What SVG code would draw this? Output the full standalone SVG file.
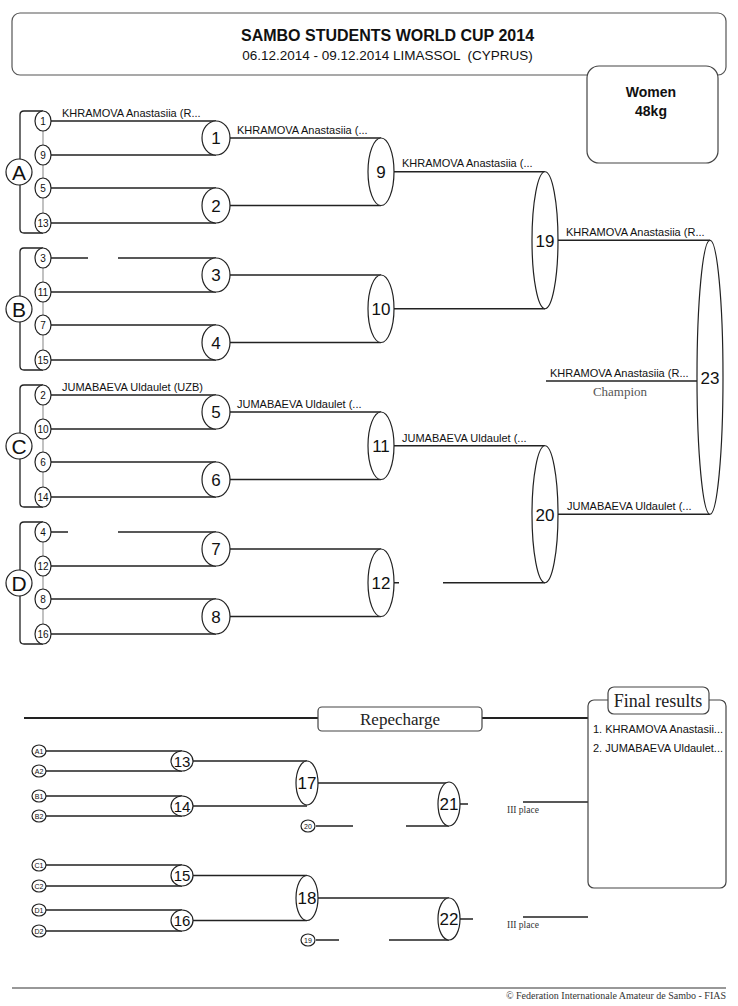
<svg xmlns="http://www.w3.org/2000/svg" width="738" height="1006" viewBox="0 0 738 1006">
<style>
.ln{stroke:#222;stroke-width:1.3;fill:none}
.gl{stroke:#999;stroke-width:1.2;fill:none}
.el{fill:#fff;stroke:#222;stroke-width:1.2}
.sans{font-family:"Liberation Sans",Arial,sans-serif;fill:#111}
.serif{font-family:"Liberation Serif","Times New Roman",serif}
.nm{font-family:"Liberation Sans",Arial,sans-serif;font-size:11px;fill:#111}
.n16{font-family:"Liberation Sans",Arial,sans-serif;font-size:17px;fill:#111;text-anchor:middle}
.n15{font-family:"Liberation Sans",Arial,sans-serif;font-size:15px;fill:#111;text-anchor:middle}
.n10{font-family:"Liberation Sans",Arial,sans-serif;font-size:10px;fill:#111;text-anchor:middle}
.n7{font-family:"Liberation Sans",Arial,sans-serif;font-size:7px;fill:#111;text-anchor:middle}
.big{font-family:"Liberation Sans",Arial,sans-serif;font-size:21px;fill:#111;text-anchor:middle}
.iii{font-family:"Liberation Serif","Times New Roman",serif;font-size:9.5px;fill:#333}
</style>
<rect width="738" height="1006" fill="#fff"/>

<g id="header">
<rect x="12" y="13" width="714" height="62" rx="8" fill="#fff" stroke="#555" stroke-width="1.2"/>
<text x="387.5" y="41" class="sans" font-size="16" font-weight="bold" text-anchor="middle">SAMBO STUDENTS WORLD CUP 2014</text>
<text x="387.5" y="60" class="sans" font-size="13.5" text-anchor="middle" xml:space="preserve">06.12.2014 - 09.12.2014 LIMASSOL  (CYPRUS)</text>
</g>
<g id="category">
<rect x="587" y="66" width="131" height="97" rx="12" fill="#fff" stroke="#444" stroke-width="1.2"/>
<text x="651" y="97" class="sans" font-size="14" font-weight="bold" text-anchor="middle">Women</text>
<text x="651" y="116" class="sans" font-size="14" font-weight="bold" text-anchor="middle">48kg</text>
</g>

<g id="connectors">
<path class="ln" d="M43 111H24Q20 111 20 115V229Q20 233 24 233H43"/>
<path class="ln" d="M43 248H24Q20 248 20 252V366Q20 370 24 370H43"/>
<path class="ln" d="M43 385H24Q20 385 20 389V503Q20 507 24 507H43"/>
<path class="ln" d="M43 522H24Q20 522 20 526V640Q20 644 24 644H43"/>
<path class="gl" d="M43 121V223M43 258V360M43 395V497M43 532V634"/>
<path class="ln" d="M51 121H216M51 155H216M51 188H216M51 223H216"/>
<path class="ln" d="M51 258H88M118 258H216M51 292H216M51 325H216M51 360H216"/>
<path class="ln" d="M51 395H216M51 429H216M51 462H216M51 497H216"/>
<path class="ln" d="M51 532H68M118 532H216M51 566H216M51 599H216M51 634H216"/>
<path class="ln" d="M230 138H381M230 205.5H381M230 275H381M230 342.5H381M230 412H381M230 479.5H381M230 549H381M230 616.5H381"/>
<path class="ln" d="M394 171.75H545M394 308.75H545M394 445.75H545M394 582.75H399M443 582.75H545"/>
<path class="ln" d="M558 240.25H710M558 514.25H710"/>
<path class="ln" d="M546 381H697"/>
<path d="M24 718H318M482 718H588" stroke="#222" stroke-width="2" fill="none"/>
<path class="ln" d="M46 751H182M46 771H182M46 796H182M46 816H182"/>
<path class="ln" d="M193 761H307M193 806H307M318 783H449M316 826H353M406 826H449M460 804H468M523 802H588"/>
<path class="ln" d="M46 865H182M46 886H182M46 910H182M46 931H182"/>
<path class="ln" d="M193 875.5H307M193 920.5H307M318 898H449M316 940H339M389 940H449M460 919H473M523 917H588"/>
<path d="M12 988H726" stroke="#333" stroke-width="1.2"/>
</g>

<g id="pool-A">
<circle cx="19" cy="172" r="13" class="el"/><text x="19" y="179.5" class="big">A</text>
<ellipse cx="43" cy="121" rx="8" ry="10" class="el"/><text x="43" y="124.5" class="n10">1</text>
<ellipse cx="43" cy="155" rx="8" ry="10" class="el"/><text x="43" y="158.5" class="n10">9</text>
<ellipse cx="43" cy="188" rx="8" ry="10" class="el"/><text x="43" y="191.5" class="n10">5</text>
<ellipse cx="43" cy="223" rx="8" ry="10" class="el"/><text x="43" y="226.5" class="n10">13</text>
</g>
<g id="pool-B">
<circle cx="19" cy="309" r="13" class="el"/><text x="19" y="316.5" class="big">B</text>
<ellipse cx="43" cy="258" rx="8" ry="10" class="el"/><text x="43" y="261.5" class="n10">3</text>
<ellipse cx="43" cy="292" rx="8" ry="10" class="el"/><text x="43" y="295.5" class="n10">11</text>
<ellipse cx="43" cy="325" rx="8" ry="10" class="el"/><text x="43" y="328.5" class="n10">7</text>
<ellipse cx="43" cy="360" rx="8" ry="10" class="el"/><text x="43" y="363.5" class="n10">15</text>
</g>
<g id="pool-C">
<circle cx="19" cy="446" r="13" class="el"/><text x="19" y="453.5" class="big">C</text>
<ellipse cx="43" cy="395" rx="8" ry="10" class="el"/><text x="43" y="398.5" class="n10">2</text>
<ellipse cx="43" cy="429" rx="8" ry="10" class="el"/><text x="43" y="432.5" class="n10">10</text>
<ellipse cx="43" cy="462" rx="8" ry="10" class="el"/><text x="43" y="465.5" class="n10">6</text>
<ellipse cx="43" cy="497" rx="8" ry="10" class="el"/><text x="43" y="500.5" class="n10">14</text>
</g>
<g id="pool-D">
<circle cx="19" cy="583" r="13" class="el"/><text x="19" y="590.5" class="big">D</text>
<ellipse cx="43" cy="532" rx="8" ry="10" class="el"/><text x="43" y="535.5" class="n10">4</text>
<ellipse cx="43" cy="566" rx="8" ry="10" class="el"/><text x="43" y="569.5" class="n10">12</text>
<ellipse cx="43" cy="599" rx="8" ry="10" class="el"/><text x="43" y="602.5" class="n10">8</text>
<ellipse cx="43" cy="634" rx="8" ry="10" class="el"/><text x="43" y="637.5" class="n10">16</text>
</g>

<g id="round1">
<ellipse cx="216" cy="138" rx="14" ry="17" class="el"/><text x="216" y="144" class="n16">1</text>
<ellipse cx="216" cy="205.5" rx="14" ry="17.5" class="el"/><text x="216" y="211.5" class="n16">2</text>
<ellipse cx="216" cy="275" rx="14" ry="17" class="el"/><text x="216" y="281" class="n16">3</text>
<ellipse cx="216" cy="342.5" rx="14" ry="17.5" class="el"/><text x="216" y="348.5" class="n16">4</text>
<ellipse cx="216" cy="412" rx="14" ry="17" class="el"/><text x="216" y="418" class="n16">5</text>
<ellipse cx="216" cy="479.5" rx="14" ry="17.5" class="el"/><text x="216" y="485.5" class="n16">6</text>
<ellipse cx="216" cy="549" rx="14" ry="17" class="el"/><text x="216" y="555" class="n16">7</text>
<ellipse cx="216" cy="616.5" rx="14" ry="17.5" class="el"/><text x="216" y="622.5" class="n16">8</text>
</g>
<g id="round2">
<ellipse cx="381" cy="171.75" rx="13" ry="33.75" class="el"/><text x="381" y="178" class="n16">9</text>
<ellipse cx="381" cy="308.75" rx="13" ry="33.75" class="el"/><text x="381" y="315" class="n16">10</text>
<ellipse cx="381" cy="445.75" rx="13" ry="33.75" class="el"/><text x="381" y="452" class="n16">11</text>
<ellipse cx="381" cy="582.75" rx="13" ry="33.75" class="el"/><text x="381" y="589" class="n16">12</text>
</g>
<g id="semifinals">
<ellipse cx="545" cy="240.25" rx="13" ry="68.5" class="el"/><text x="545" y="246.5" class="n16">19</text>
<ellipse cx="545" cy="514.25" rx="13" ry="68.5" class="el"/><text x="545" y="520.5" class="n16">20</text>
</g>
<g id="final">
<ellipse cx="710" cy="377.25" rx="13" ry="137" class="el"/><text x="710" y="384" class="n16">23</text>
</g>

<g id="names">
<text x="62" y="117" class="nm">KHRAMOVA Anastasiia (R...</text>
<text x="237" y="134" class="nm">KHRAMOVA Anastasiia (...</text>
<text x="402" y="167" class="nm">KHRAMOVA Anastasiia (...</text>
<text x="566" y="236" class="nm">KHRAMOVA Anastasiia (R...</text>
<text x="62" y="391" class="nm">JUMABAEVA Uldaulet (UZB)</text>
<text x="237" y="408" class="nm">JUMABAEVA Uldaulet (...</text>
<text x="402" y="442" class="nm">JUMABAEVA Uldaulet (...</text>
<text x="567" y="510" class="nm">JUMABAEVA Uldaulet (...</text>
</g>
<g id="champion">
<text x="550" y="377" class="nm">KHRAMOVA Anastasiia (R...</text>
<text x="620" y="396" class="serif" font-size="13" fill="#555" text-anchor="middle">Champion</text>
</g>

<g id="repecharge-title">
<rect x="318" y="707" width="164" height="24" rx="4" fill="#fff" stroke="#444" stroke-width="1.2"/>
<text x="400" y="725" class="serif" font-size="17" fill="#222" text-anchor="middle">Repecharge</text>
</g>

<g id="repecharge-1">
<ellipse cx="39" cy="751" rx="7" ry="6" class="el"/><text x="39" y="753.5" class="n7">A1</text>
<ellipse cx="39" cy="771" rx="7" ry="6" class="el"/><text x="39" y="773.5" class="n7">A2</text>
<ellipse cx="39" cy="796" rx="7" ry="6" class="el"/><text x="39" y="798.5" class="n7">B1</text>
<ellipse cx="39" cy="816" rx="7" ry="6" class="el"/><text x="39" y="818.5" class="n7">B2</text>
<ellipse cx="182" cy="761" rx="11" ry="10" class="el"/><text x="182" y="766.5" class="n15">13</text>
<ellipse cx="182" cy="806" rx="11" ry="10" class="el"/><text x="182" y="811.5" class="n15">14</text>
<ellipse cx="307" cy="783" rx="11" ry="22" class="el"/><text x="307" y="789" class="n16">17</text>
<ellipse cx="449" cy="804" rx="11" ry="22" class="el"/><text x="449" y="810" class="n16">21</text>
<ellipse cx="308" cy="826" rx="7" ry="6" class="el"/><text x="308" y="828.5" class="n7">20</text>
<text x="507" y="813" class="iii">III place</text>
</g>
<g id="repecharge-2">
<ellipse cx="39" cy="865" rx="7" ry="6" class="el"/><text x="39" y="867.5" class="n7">C1</text>
<ellipse cx="39" cy="886" rx="7" ry="6" class="el"/><text x="39" y="888.5" class="n7">C2</text>
<ellipse cx="39" cy="910" rx="7" ry="6" class="el"/><text x="39" y="912.5" class="n7">D1</text>
<ellipse cx="39" cy="931" rx="7" ry="6" class="el"/><text x="39" y="933.5" class="n7">D2</text>
<ellipse cx="182" cy="875.5" rx="11" ry="10.5" class="el"/><text x="182" y="881" class="n15">15</text>
<ellipse cx="182" cy="920.5" rx="11" ry="10.5" class="el"/><text x="182" y="926" class="n15">16</text>
<ellipse cx="307" cy="898" rx="11" ry="22.5" class="el"/><text x="307" y="904" class="n16">18</text>
<ellipse cx="449" cy="919" rx="11" ry="21" class="el"/><text x="449" y="925" class="n16">22</text>
<ellipse cx="308" cy="940" rx="7" ry="6" class="el"/><text x="308" y="942.5" class="n7">19</text>
<text x="507" y="928" class="iii">III place</text>
</g>

<g id="final-results">
<rect x="588" y="700" width="138" height="188" rx="6" fill="#fff" stroke="#444" stroke-width="1.2"/>
<rect x="608" y="687" width="101" height="27" rx="6" fill="#fff" stroke="#444" stroke-width="1.2"/>
<text x="658" y="707" class="serif" font-size="18" fill="#222" text-anchor="middle">Final results</text>
<text x="593" y="733" class="nm">1. KHRAMOVA Anastasii...</text>
<text x="593" y="752" class="nm">2. JUMABAEVA Uldaulet...</text>
</g>

<g id="footer">
<text x="726" y="999" class="serif" font-size="10" fill="#333" text-anchor="end">© Federation Internationale Amateur de Sambo - FIAS</text>
</g>
</svg>
